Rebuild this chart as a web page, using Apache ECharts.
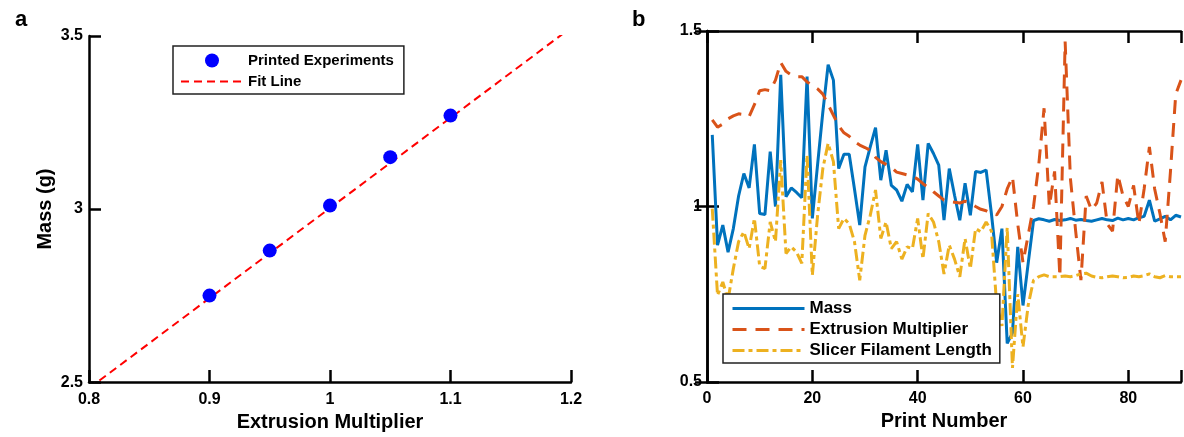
<!DOCTYPE html>
<html>
<head>
<meta charset="utf-8">
<script src="https://cdn.jsdelivr.net/npm/echarts@6/dist/echarts.min.js"></script>
<style>
  html, body { margin: 0; padding: 0; background: #fff; }
  #container { width: 1184px; height: 437px; }
</style>
</head>
<body>
<div id="container"></div>
<script>
// panel a: mass vs extrusion multiplier
const extrusionMult = [0.9, 0.95, 1.0, 1.05, 1.1];
const massGrams = [2.75, 2.88, 3.01, 3.15, 3.27];
const fitX = [0.8, 1.2];
const fitY = [2.482, 3.524];

// panel b: normalised values per print number
const massNorm = [
  1.204, 0.89, 0.947, 0.87, 0.937, 1.03, 1.094, 1.053, 1.177, 0.98,
  0.977, 1.156, 1.0, 1.375, 1.028, 1.053, 1.04, 1.025, 1.37, 0.966,
  1.12, 1.27, 1.404, 1.36, 1.108, 1.149, 1.149, 1.05, 0.947, 1.113,
  1.17, 1.225, 1.075, 1.16, 1.06, 1.047, 1.015, 1.063, 1.042, 1.177,
  1.018, 1.18, 1.151, 1.118, 0.961, 1.108, 1.032, 0.961, 1.066, 0.975,
  1.1, 1.097, 1.104, 0.98, 0.84, 0.937, 0.61, 0.64, 0.885, 0.718,
  0.84, 0.96, 0.965, 0.962, 0.958, 0.963, 0.96, 0.962, 0.966, 0.961,
  0.963, 0.96, 0.958, 0.962, 0.966, 0.962, 0.96, 0.967, 0.962, 0.966,
  0.962, 0.968, 0.972, 1.018, 0.958, 0.965, 0.972, 0.962, 0.975, 0.97
];
const extrusionNorm = [
  1.247, 1.226, 1.235, 1.25, 1.258, 1.264, 1.262, 1.256, 1.29, 1.33,
  1.333, 1.33, 1.36, 1.41, 1.385, 1.375, 1.37, 1.37, 1.355, 1.345,
  1.335, 1.32, 1.29, 1.26, 1.23, 1.21, 1.2, 1.185, 1.175, 1.168,
  1.16, 1.14, 1.128, 1.12, 1.112, 1.098, 1.094, 1.09, 1.086, 1.078,
  1.065, 1.055, 1.042, 1.03, 1.018, 1.014, 1.012, 1.01, 1.015, 1.01,
  1.0, 0.992, 0.988, 0.98, 0.976, 1.0, 1.05, 1.085, 0.95, 0.84,
  0.92, 1.0, 1.12, 1.28, 1.0, 1.1, 0.8, 1.47, 1.08, 0.93,
  0.79, 1.03, 0.99, 1.01, 1.07, 0.95, 0.93, 1.09, 1.03, 1.0,
  1.06, 0.95, 1.05, 1.17, 1.05, 0.98, 0.9, 1.1, 1.32, 1.36
];
const slicerNorm = [
  0.994, 0.747, 0.785, 0.735, 0.823, 0.9, 0.928, 0.88, 0.966, 0.83,
  0.823, 0.956, 0.9, 1.132, 0.866, 0.885, 0.87, 0.838, 1.147, 0.804,
  0.975, 1.109, 1.18, 1.128, 0.937, 0.966, 0.951, 0.9, 0.79, 0.918,
  0.975, 1.047, 0.909, 0.956, 0.88, 0.9, 0.85, 0.885, 0.88, 0.966,
  0.851, 0.98, 0.956, 0.9, 0.808, 0.89, 0.85, 0.8, 0.909, 0.823,
  0.937, 0.928, 0.956, 0.93, 0.72, 0.66, 0.94, 0.54, 0.75, 0.6,
  0.72, 0.79, 0.8, 0.805, 0.8, 0.8, 0.8, 0.802, 0.8, 0.803,
  0.808, 0.81, 0.802, 0.798, 0.797, 0.8, 0.802, 0.8, 0.797, 0.798,
  0.802, 0.8, 0.803, 0.808, 0.8, 0.797, 0.803, 0.8, 0.8, 0.8
];

const font = "'Liberation Sans', Arial, sans-serif";
const black = "#000";

let dom = document.getElementById("container");
let myChart = echarts.init(dom, null, { renderer: "canvas" });

function pairs(xs, ys) {
  return xs.map((x, i) => [x, ys[i]]);
}
function byPrint(ys) {
  return ys.map((y, i) => [i + 1, y]);
}

let axisLine = { lineStyle: { color: black, width: 2.5 } };
let tickIn = { inside: true, length: 12, lineStyle: { color: black, width: 2.5 } };
let tickLabel = { fontSize: 16, fontWeight: "bold", color: black, fontFamily: font };
// hide the symbol that echarts puts in the middle of a line legend icon
let noSym = { opacity: 0 };

let option = {
  animation: false,
  textStyle: { fontFamily: font },
  title: [
    { text: "a", left: 10, top: 4, textStyle: { fontSize: 22, fontWeight: "bold", color: black, fontFamily: font } },
    { text: "b", left: 627, top: 4, textStyle: { fontSize: 22, fontWeight: "bold", color: black, fontFamily: font } },
  ],
  grid: [
    { left: 89, top: 36, right: 613, bottom: 52 },
    { left: 707, top: 31, right: -5, bottom: 55 },
  ],
  legend: [
    {
      data: ["Printed Experiments", { name: "Fit Line", itemStyle: noSym }],
      orient: "vertical",
      left: 173,
      top: 46,
      padding: [7, 10, 5, 7],
      itemGap: 6,
      itemWidth: 62,
      itemHeight: 14,
      lineStyle: { width: 2 },
      borderColor: "#222",
      borderWidth: 1.5,
      backgroundColor: "#fff",
      textStyle: { fontSize: 15, fontWeight: "bold", color: black, fontFamily: font },
    },
    {
      data: [
        { name: "Mass", itemStyle: noSym },
        { name: "Extrusion Multiplier", itemStyle: noSym },
        { name: "Slicer Filament Length", itemStyle: noSym },
      ],
      orient: "vertical",
      left: 723,
      top: 294,
      padding: [6, 8, 4, 8],
      itemGap: 4,
      itemWidth: 72,
      itemHeight: 14,
      lineStyle: { width: 3 },
      borderColor: "#222",
      borderWidth: 1.5,
      backgroundColor: "#fff",
      textStyle: { fontSize: 17, fontWeight: "bold", color: black, fontFamily: font },
    },
  ],
  xAxis: [
    {
      gridIndex: 0,
      type: "value",
      min: 0.8,
      max: 1.2,
      interval: 0.1,
      name: "Extrusion Multiplier",
      nameLocation: "middle",
      nameGap: 29,
      nameTextStyle: { fontSize: 20, fontWeight: "bold", color: black, fontFamily: font },
      axisLine: axisLine,
      axisTick: tickIn,
      axisLabel: Object.assign({ margin: 9 }, tickLabel),
      splitLine: { show: false },
    },
    {
      gridIndex: 1,
      type: "value",
      min: 0,
      max: 90,
      interval: 20,
      name: "Print Number",
      nameLocation: "middle",
      nameGap: 29,
      nameTextStyle: { fontSize: 20, fontWeight: "bold", color: black, fontFamily: font },
      axisLine: axisLine,
      axisTick: tickIn,
      axisLabel: Object.assign(
        { margin: 9, formatter: (v) => (v % 20 === 0 ? String(v) : "") },
        tickLabel
      ),
      splitLine: { show: false },
    },
    {
      gridIndex: 1,
      type: "value",
      position: "top",
      min: 0,
      max: 90,
      interval: 20,
      axisLine: axisLine,
      axisTick: tickIn,
      axisLabel: { show: false },
      splitLine: { show: false },
    },
  ],
  yAxis: [
    {
      gridIndex: 0,
      type: "value",
      min: 2.5,
      max: 3.5,
      interval: 0.5,
      name: "Mass (g)",
      nameLocation: "middle",
      nameGap: 34,
      nameTextStyle: { fontSize: 20, fontWeight: "bold", color: black, fontFamily: font },
      axisLine: axisLine,
      axisTick: tickIn,
      axisLabel: Object.assign({ margin: 6 }, tickLabel),
      splitLine: { show: false },
    },
    {
      gridIndex: 1,
      type: "value",
      min: 0.5,
      max: 1.5,
      interval: 0.5,
      axisLine: axisLine,
      axisTick: tickIn,
      axisLabel: Object.assign({ margin: 5 }, tickLabel),
      splitLine: { show: false },
    },
    {
      gridIndex: 1,
      type: "value",
      position: "right",
      min: 0.5,
      max: 1.5,
      interval: 0.5,
      axisLine: axisLine,
      axisTick: tickIn,
      axisLabel: { show: false },
      splitLine: { show: false },
    },
  ],
  series: [
    {
      name: "Printed Experiments",
      type: "scatter",
      xAxisIndex: 0,
      yAxisIndex: 0,
      symbol: "circle",
      symbolSize: 14,
      z: 3,
      itemStyle: { color: "#0000ff", opacity: 1 },
      data: pairs(extrusionMult, massGrams),
    },
    {
      name: "Fit Line",
      type: "line",
      xAxisIndex: 0,
      yAxisIndex: 0,
      symbol: "none",
      itemStyle: { color: "#ff0000" },
      lineStyle: { color: "#ff0000", width: 2, type: [8, 5] },
      data: pairs(fitX, fitY),
    },
    {
      name: "Mass",
      type: "line",
      xAxisIndex: 1,
      yAxisIndex: 1,
      symbol: "none",
      itemStyle: { color: "#0072BD" },
      lineStyle: { color: "#0072BD", width: 3 },
      data: byPrint(massNorm),
    },
    {
      name: "Extrusion Multiplier",
      type: "line",
      xAxisIndex: 1,
      yAxisIndex: 1,
      symbol: "none",
      itemStyle: { color: "#D95319" },
      lineStyle: { color: "#D95319", width: 3, type: [14, 9] },
      data: byPrint(extrusionNorm),
    },
    {
      name: "Slicer Filament Length",
      type: "line",
      xAxisIndex: 1,
      yAxisIndex: 1,
      symbol: "none",
      itemStyle: { color: "#EDB120" },
      lineStyle: { color: "#EDB120", width: 3, type: [12, 4, 4, 4] },
      data: byPrint(slicerNorm),
    },
  ],
};

if (option && typeof option === "object") {
  myChart.setOption(option);
}
window.addEventListener("resize", myChart.resize);
</script>
</body>
</html>
